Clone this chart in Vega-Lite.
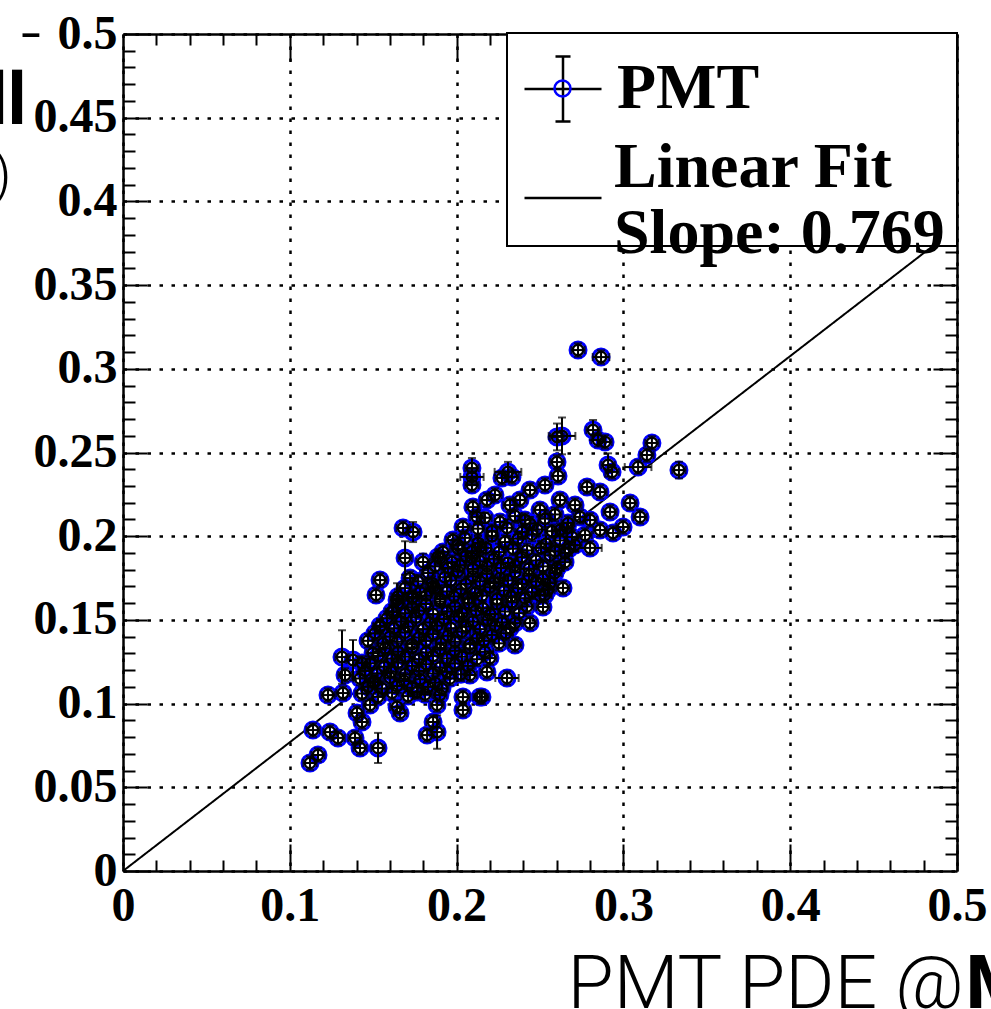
{
"$schema": "https://vega.github.io/schema/vega-lite/v6.json",
"width": 834, "height": 837,
"autosize": "none",
"padding": {"left": 123, "top": 34, "right": 34, "bottom": 138},
"background": "white",
"config": {
 "view": {"stroke": null},
 "legend": {"strokeWidth": 2},
 "axis": {"domainColor": "black", "tickColor": "black", "labelColor": "black", "titleColor": "black",
  "labelFont": "Liberation Serif", "labelFontWeight": "bold", "labelFontSize": 48,
  "labelFlush": false, "labelOverlap": false, "tickWidth": 2, "domainWidth": 2.5,
  "gridColor": "black", "gridDash": [3.5, 8.5], "gridWidth": 2.5, "gridOpacity": 1}
},
"datasets": {
 "leg": [{"s": "PMT"}, {"s": "Linear Fit"}],
 "fit": [{"fx": 0, "fy": 0}, {"fx": 0.5, "fy": 0.3845}],
 "pts": [
  {"x":0.2728,"y":0.3112,"ex":0.004,"ey":0.004},
  {"x":0.2866,"y":0.3070,"ex":0.005,"ey":0.004},
  {"x":0.3333,"y":0.2395,"ex":0.004,"ey":0.005},
  {"x":0.3171,"y":0.2557,"ex":0.004,"ey":0.004},
  {"x":0.3141,"y":0.2485,"ex":0.004,"ey":0.004},
  {"x":0.3088,"y":0.2413,"ex":0.008,"ey":0.004},
  {"x":0.3040,"y":0.2198,"ex":0.004,"ey":0.004},
  {"x":0.3100,"y":0.2115,"ex":0.004,"ey":0.004},
  {"x":0.2998,"y":0.2055,"ex":0.004,"ey":0.004},
  {"x":0.2938,"y":0.2019,"ex":0.004,"ey":0.004},
  {"x":0.2920,"y":0.2145,"ex":0.004,"ey":0.004},
  {"x":0.2818,"y":0.2634,"ex":0.004,"ey":0.006},
  {"x":0.2848,"y":0.2575,"ex":0.004,"ey":0.004},
  {"x":0.2890,"y":0.2563,"ex":0.004,"ey":0.004},
  {"x":0.2908,"y":0.2425,"ex":0.004,"ey":0.007},
  {"x":0.2932,"y":0.2384,"ex":0.004,"ey":0.004},
  {"x":0.2632,"y":0.2599,"ex":0.008,"ey":0.011},
  {"x":0.2602,"y":0.2593,"ex":0.004,"ey":0.008},
  {"x":0.2602,"y":0.2443,"ex":0.004,"ey":0.004},
  {"x":0.2608,"y":0.2360,"ex":0.004,"ey":0.004},
  {"x":0.2860,"y":0.2264,"ex":0.004,"ey":0.004},
  {"x":0.2782,"y":0.2294,"ex":0.004,"ey":0.004},
  {"x":0.2740,"y":0.2115,"ex":0.004,"ey":0.004},
  {"x":0.2668,"y":0.2079,"ex":0.004,"ey":0.004},
  {"x":0.2800,"y":0.1930,"ex":0.007,"ey":0.004},
  {"x":0.2650,"y":0.1900,"ex":0.004,"ey":0.004},
  {"x":0.2602,"y":0.1810,"ex":0.004,"ey":0.004},
  {"x":0.2638,"y":0.1691,"ex":0.004,"ey":0.004},
  {"x":0.2530,"y":0.1649,"ex":0.004,"ey":0.004},
  {"x":0.2518,"y":0.1577,"ex":0.004,"ey":0.004},
  {"x":0.2440,"y":0.1481,"ex":0.004,"ey":0.004},
  {"x":0.2350,"y":0.1481,"ex":0.004,"ey":0.004},
  {"x":0.2350,"y":0.1350,"ex":0.004,"ey":0.004},
  {"x":0.2302,"y":0.1153,"ex":0.007,"ey":0.004},
  {"x":0.2200,"y":0.1272,"ex":0.004,"ey":0.004},
  {"x":0.2182,"y":0.1189,"ex":0.004,"ey":0.004},
  {"x":0.2152,"y":0.1039,"ex":0.004,"ey":0.004},
  {"x":0.2092,"y":0.2407,"ex":0.004,"ey":0.006},
  {"x":0.2092,"y":0.2354,"ex":0.007,"ey":0.004},
  {"x":0.2308,"y":0.2384,"ex":0.008,"ey":0.006},
  {"x":0.2272,"y":0.2348,"ex":0.004,"ey":0.004},
  {"x":0.2332,"y":0.2354,"ex":0.004,"ey":0.004},
  {"x":0.1679,"y":0.2049,"ex":0.004,"ey":0.004},
  {"x":0.1739,"y":0.2025,"ex":0.004,"ey":0.006},
  {"x":0.1691,"y":0.1870,"ex":0.004,"ey":0.010},
  {"x":0.1799,"y":0.1846,"ex":0.004,"ey":0.005},
  {"x":0.1541,"y":0.1738,"ex":0.004,"ey":0.004},
  {"x":0.1517,"y":0.1649,"ex":0.004,"ey":0.004},
  {"x":0.1721,"y":0.1750,"ex":0.004,"ey":0.004},
  {"x":0.1739,"y":0.1637,"ex":0.004,"ey":0.004},
  {"x":0.1643,"y":0.1619,"ex":0.004,"ey":0.010},
  {"x":0.1619,"y":0.1547,"ex":0.004,"ey":0.004},
  {"x":0.1541,"y":0.1458,"ex":0.004,"ey":0.004},
  {"x":0.1871,"y":0.1691,"ex":0.004,"ey":0.004},
  {"x":0.1888,"y":0.1876,"ex":0.004,"ey":0.004},
  {"x":0.1918,"y":0.1906,"ex":0.004,"ey":0.004},
  {"x":0.1978,"y":0.1977,"ex":0.004,"ey":0.004},
  {"x":0.2008,"y":0.1947,"ex":0.004,"ey":0.004},
  {"x":0.2038,"y":0.2055,"ex":0.004,"ey":0.004},
  {"x":0.2092,"y":0.2306,"ex":0.004,"ey":0.004},
  {"x":0.2098,"y":0.2174,"ex":0.004,"ey":0.004},
  {"x":0.2122,"y":0.2115,"ex":0.004,"ey":0.004},
  {"x":0.2092,"y":0.1870,"ex":0.004,"ey":0.004},
  {"x":0.2140,"y":0.1935,"ex":0.004,"ey":0.004},
  {"x":0.1313,"y":0.1278,"ex":0.004,"ey":0.016},
  {"x":0.1379,"y":0.1260,"ex":0.004,"ey":0.012},
  {"x":0.1433,"y":0.1243,"ex":0.004,"ey":0.004},
  {"x":0.1499,"y":0.1302,"ex":0.004,"ey":0.004},
  {"x":0.1331,"y":0.1171,"ex":0.004,"ey":0.004},
  {"x":0.1319,"y":0.1063,"ex":0.004,"ey":0.004},
  {"x":0.1229,"y":0.1051,"ex":0.004,"ey":0.004},
  {"x":0.1139,"y":0.0842,"ex":0.004,"ey":0.004},
  {"x":0.1241,"y":0.0830,"ex":0.004,"ey":0.004},
  {"x":0.1289,"y":0.0795,"ex":0.004,"ey":0.004},
  {"x":0.1169,"y":0.0693,"ex":0.004,"ey":0.004},
  {"x":0.1121,"y":0.0645,"ex":0.004,"ey":0.004},
  {"x":0.1403,"y":0.0944,"ex":0.004,"ey":0.004},
  {"x":0.1433,"y":0.0890,"ex":0.004,"ey":0.004},
  {"x":0.1391,"y":0.0795,"ex":0.004,"ey":0.004},
  {"x":0.1421,"y":0.0735,"ex":0.004,"ey":0.004},
  {"x":0.1529,"y":0.0735,"ex":0.004,"ey":0.009},
  {"x":0.1823,"y":0.0812,"ex":0.004,"ey":0.004},
  {"x":0.1883,"y":0.0830,"ex":0.004,"ey":0.010},
  {"x":0.1859,"y":0.0890,"ex":0.004,"ey":0.004},
  {"x":0.1883,"y":0.0992,"ex":0.004,"ey":0.004},
  {"x":0.1900,"y":0.1051,"ex":0.004,"ey":0.004},
  {"x":0.2038,"y":0.1039,"ex":0.004,"ey":0.004},
  {"x":0.2038,"y":0.0962,"ex":0.004,"ey":0.004},
  {"x":0.2140,"y":0.1039,"ex":0.004,"ey":0.004},
  {"x":0.2080,"y":0.1171,"ex":0.004,"ey":0.004},
  {"x":0.1661,"y":0.0944,"ex":0.004,"ey":0.004},
  {"x":0.1643,"y":0.0980,"ex":0.004,"ey":0.004},
  {"x":0.1763,"y":0.1069,"ex":0.004,"ey":0.004},
  {"x":0.1481,"y":0.0992,"ex":0.004,"ey":0.004},
  {"x":0.1499,"y":0.1129,"ex":0.004,"ey":0.004},
  {"x":0.2380,"y":0.2216,"ex":0.004,"ey":0.004},
  {"x":0.2440,"y":0.2276,"ex":0.004,"ey":0.004},
  {"x":0.2530,"y":0.2306,"ex":0.004,"ey":0.004},
  {"x":0.2620,"y":0.2216,"ex":0.004,"ey":0.004},
  {"x":0.2710,"y":0.2186,"ex":0.004,"ey":0.004},
  {"x":0.2800,"y":0.2097,"ex":0.004,"ey":0.004},
  {"x":0.2860,"y":0.2037,"ex":0.004,"ey":0.004},
  {"x":0.2770,"y":0.2007,"ex":0.004,"ey":0.004},
  {"x":0.2710,"y":0.1947,"ex":0.004,"ey":0.004},
  {"x":0.2620,"y":0.2037,"ex":0.004,"ey":0.004},
  {"x":0.2500,"y":0.2157,"ex":0.004,"ey":0.004},
  {"x":0.2410,"y":0.2097,"ex":0.004,"ey":0.004},
  {"x":0.2320,"y":0.2186,"ex":0.004,"ey":0.004},
  {"x":0.2230,"y":0.2246,"ex":0.004,"ey":0.004},
  {"x":0.2182,"y":0.2216,"ex":0.004,"ey":0.004},
  {"x":0.2170,"y":0.2110,"ex":0.004,"ey":0.003},
  {"x":0.2260,"y":0.2085,"ex":0.003,"ey":0.004},
  {"x":0.2350,"y":0.2120,"ex":0.004,"ey":0.004},
  {"x":0.2440,"y":0.2075,"ex":0.005,"ey":0.004},
  {"x":0.2530,"y":0.2105,"ex":0.004,"ey":0.005},
  {"x":0.2590,"y":0.2130,"ex":0.004,"ey":0.004},
  {"x":0.2050,"y":0.1990,"ex":0.004,"ey":0.004},
  {"x":0.2128,"y":0.1960,"ex":0.003,"ey":0.004},
  {"x":0.2212,"y":0.2000,"ex":0.004,"ey":0.003},
  {"x":0.2290,"y":0.1965,"ex":0.004,"ey":0.004},
  {"x":0.2368,"y":0.1985,"ex":0.005,"ey":0.004},
  {"x":0.2452,"y":0.2010,"ex":0.004,"ey":0.004},
  {"x":0.2536,"y":0.1955,"ex":0.004,"ey":0.005},
  {"x":0.2620,"y":0.1975,"ex":0.004,"ey":0.004},
  {"x":0.2692,"y":0.1995,"ex":0.004,"ey":0.004},
  {"x":0.1901,"y":0.1870,"ex":0.004,"ey":0.004},
  {"x":0.1972,"y":0.1845,"ex":0.003,"ey":0.004},
  {"x":0.2056,"y":0.1880,"ex":0.004,"ey":0.005},
  {"x":0.2140,"y":0.1850,"ex":0.004,"ey":0.004},
  {"x":0.2224,"y":0.1865,"ex":0.005,"ey":0.004},
  {"x":0.2308,"y":0.1840,"ex":0.004,"ey":0.003},
  {"x":0.2392,"y":0.1875,"ex":0.004,"ey":0.004},
  {"x":0.2476,"y":0.1855,"ex":0.004,"ey":0.004},
  {"x":0.2560,"y":0.1885,"ex":0.003,"ey":0.004},
  {"x":0.2650,"y":0.1845,"ex":0.004,"ey":0.004},
  {"x":0.1829,"y":0.1780,"ex":0.004,"ey":0.004},
  {"x":0.1930,"y":0.1755,"ex":0.004,"ey":0.005},
  {"x":0.2008,"y":0.1790,"ex":0.004,"ey":0.004},
  {"x":0.2098,"y":0.1760,"ex":0.005,"ey":0.004},
  {"x":0.2182,"y":0.1775,"ex":0.004,"ey":0.004},
  {"x":0.2260,"y":0.1750,"ex":0.004,"ey":0.003},
  {"x":0.2350,"y":0.1785,"ex":0.003,"ey":0.004},
  {"x":0.2434,"y":0.1765,"ex":0.004,"ey":0.004},
  {"x":0.2518,"y":0.1745,"ex":0.004,"ey":0.004},
  {"x":0.2590,"y":0.1780,"ex":0.004,"ey":0.005},
  {"x":0.1691,"y":0.1690,"ex":0.004,"ey":0.004},
  {"x":0.1781,"y":0.1665,"ex":0.004,"ey":0.004},
  {"x":0.1859,"y":0.1700,"ex":0.003,"ey":0.004},
  {"x":0.1942,"y":0.1670,"ex":0.004,"ey":0.004},
  {"x":0.2026,"y":0.1685,"ex":0.004,"ey":0.005},
  {"x":0.2110,"y":0.1660,"ex":0.005,"ey":0.004},
  {"x":0.2200,"y":0.1695,"ex":0.004,"ey":0.004},
  {"x":0.2284,"y":0.1675,"ex":0.004,"ey":0.003},
  {"x":0.2368,"y":0.1690,"ex":0.004,"ey":0.004},
  {"x":0.2452,"y":0.1665,"ex":0.004,"ey":0.004},
  {"x":0.2548,"y":0.1680,"ex":0.004,"ey":0.004},
  {"x":0.1649,"y":0.1600,"ex":0.004,"ey":0.004},
  {"x":0.1733,"y":0.1575,"ex":0.004,"ey":0.005},
  {"x":0.1817,"y":0.1595,"ex":0.004,"ey":0.004},
  {"x":0.1901,"y":0.1610,"ex":0.003,"ey":0.004},
  {"x":0.1990,"y":0.1580,"ex":0.004,"ey":0.004},
  {"x":0.2074,"y":0.1600,"ex":0.004,"ey":0.004},
  {"x":0.2158,"y":0.1570,"ex":0.005,"ey":0.004},
  {"x":0.2242,"y":0.1595,"ex":0.004,"ey":0.003},
  {"x":0.2332,"y":0.1605,"ex":0.004,"ey":0.004},
  {"x":0.2422,"y":0.1580,"ex":0.004,"ey":0.004},
  {"x":0.1583,"y":0.1510,"ex":0.004,"ey":0.004},
  {"x":0.1667,"y":0.1490,"ex":0.004,"ey":0.004},
  {"x":0.1757,"y":0.1515,"ex":0.003,"ey":0.005},
  {"x":0.1841,"y":0.1485,"ex":0.004,"ey":0.004},
  {"x":0.1924,"y":0.1505,"ex":0.004,"ey":0.004},
  {"x":0.2014,"y":0.1520,"ex":0.005,"ey":0.004},
  {"x":0.2098,"y":0.1490,"ex":0.004,"ey":0.004},
  {"x":0.2188,"y":0.1500,"ex":0.004,"ey":0.003},
  {"x":0.2272,"y":0.1485,"ex":0.004,"ey":0.004},
  {"x":0.1511,"y":0.1420,"ex":0.004,"ey":0.004},
  {"x":0.1601,"y":0.1400,"ex":0.004,"ey":0.004},
  {"x":0.1691,"y":0.1425,"ex":0.004,"ey":0.005},
  {"x":0.1775,"y":0.1395,"ex":0.003,"ey":0.004},
  {"x":0.1859,"y":0.1415,"ex":0.004,"ey":0.004},
  {"x":0.1948,"y":0.1405,"ex":0.004,"ey":0.004},
  {"x":0.2032,"y":0.1430,"ex":0.005,"ey":0.004},
  {"x":0.2122,"y":0.1390,"ex":0.004,"ey":0.004},
  {"x":0.2212,"y":0.1410,"ex":0.004,"ey":0.004},
  {"x":0.2296,"y":0.1420,"ex":0.004,"ey":0.004},
  {"x":0.1571,"y":0.1330,"ex":0.004,"ey":0.004},
  {"x":0.1649,"y":0.1310,"ex":0.004,"ey":0.005},
  {"x":0.1733,"y":0.1335,"ex":0.004,"ey":0.004},
  {"x":0.1817,"y":0.1305,"ex":0.003,"ey":0.004},
  {"x":0.1901,"y":0.1325,"ex":0.004,"ey":0.004},
  {"x":0.1990,"y":0.1315,"ex":0.004,"ey":0.004},
  {"x":0.2080,"y":0.1330,"ex":0.004,"ey":0.003},
  {"x":0.2170,"y":0.1310,"ex":0.005,"ey":0.004},
  {"x":0.1481,"y":0.1240,"ex":0.004,"ey":0.004},
  {"x":0.1565,"y":0.1220,"ex":0.004,"ey":0.004},
  {"x":0.1649,"y":0.1245,"ex":0.004,"ey":0.004},
  {"x":0.1733,"y":0.1225,"ex":0.004,"ey":0.005},
  {"x":0.1817,"y":0.1235,"ex":0.004,"ey":0.004},
  {"x":0.1901,"y":0.1215,"ex":0.003,"ey":0.004},
  {"x":0.1990,"y":0.1240,"ex":0.004,"ey":0.004},
  {"x":0.2068,"y":0.1225,"ex":0.004,"ey":0.004},
  {"x":0.1421,"y":0.1150,"ex":0.004,"ey":0.004},
  {"x":0.1511,"y":0.1130,"ex":0.004,"ey":0.004},
  {"x":0.1601,"y":0.1155,"ex":0.004,"ey":0.004},
  {"x":0.1685,"y":0.1135,"ex":0.004,"ey":0.005},
  {"x":0.1781,"y":0.1145,"ex":0.004,"ey":0.004},
  {"x":0.1871,"y":0.1125,"ex":0.004,"ey":0.004},
  {"x":0.1960,"y":0.1150,"ex":0.004,"ey":0.004},
  {"x":0.1433,"y":0.1060,"ex":0.004,"ey":0.004},
  {"x":0.1529,"y":0.1040,"ex":0.004,"ey":0.004},
  {"x":0.1613,"y":0.1065,"ex":0.004,"ey":0.004},
  {"x":0.1709,"y":0.1045,"ex":0.004,"ey":0.004},
  {"x":0.1811,"y":0.1055,"ex":0.004,"ey":0.004},
  {"x":0.2128,"y":0.2045,"ex":0.004,"ey":0.004},
  {"x":0.2212,"y":0.2030,"ex":0.003,"ey":0.004},
  {"x":0.2302,"y":0.2050,"ex":0.004,"ey":0.005},
  {"x":0.2392,"y":0.2025,"ex":0.004,"ey":0.004},
  {"x":0.2482,"y":0.2040,"ex":0.005,"ey":0.004},
  {"x":0.2572,"y":0.2030,"ex":0.004,"ey":0.004},
  {"x":0.2662,"y":0.2050,"ex":0.004,"ey":0.003},
  {"x":0.2008,"y":0.1925,"ex":0.004,"ey":0.004},
  {"x":0.2092,"y":0.1910,"ex":0.004,"ey":0.004},
  {"x":0.2176,"y":0.1930,"ex":0.003,"ey":0.004},
  {"x":0.2254,"y":0.1905,"ex":0.004,"ey":0.005},
  {"x":0.2338,"y":0.1925,"ex":0.004,"ey":0.004},
  {"x":0.2422,"y":0.1915,"ex":0.004,"ey":0.004},
  {"x":0.2506,"y":0.1930,"ex":0.005,"ey":0.004},
  {"x":0.2590,"y":0.1910,"ex":0.004,"ey":0.004},
  {"x":0.2674,"y":0.1925,"ex":0.004,"ey":0.004},
  {"x":0.1871,"y":0.1820,"ex":0.004,"ey":0.004},
  {"x":0.1948,"y":0.1810,"ex":0.004,"ey":0.003},
  {"x":0.2020,"y":0.1825,"ex":0.004,"ey":0.004},
  {"x":0.2098,"y":0.1805,"ex":0.003,"ey":0.004},
  {"x":0.2182,"y":0.1820,"ex":0.004,"ey":0.004},
  {"x":0.2266,"y":0.1810,"ex":0.004,"ey":0.005},
  {"x":0.2350,"y":0.1825,"ex":0.004,"ey":0.004},
  {"x":0.2434,"y":0.1805,"ex":0.005,"ey":0.004},
  {"x":0.2518,"y":0.1820,"ex":0.004,"ey":0.004},
  {"x":0.2602,"y":0.1810,"ex":0.004,"ey":0.004},
  {"x":0.1769,"y":0.1730,"ex":0.004,"ey":0.004},
  {"x":0.1853,"y":0.1720,"ex":0.004,"ey":0.004},
  {"x":0.1966,"y":0.1735,"ex":0.003,"ey":0.004},
  {"x":0.2056,"y":0.1715,"ex":0.004,"ey":0.004},
  {"x":0.2140,"y":0.1730,"ex":0.004,"ey":0.005},
  {"x":0.2224,"y":0.1720,"ex":0.004,"ey":0.004},
  {"x":0.2308,"y":0.1735,"ex":0.005,"ey":0.004},
  {"x":0.2392,"y":0.1715,"ex":0.004,"ey":0.003},
  {"x":0.2476,"y":0.1730,"ex":0.004,"ey":0.004},
  {"x":0.2560,"y":0.1720,"ex":0.004,"ey":0.004},
  {"x":0.1649,"y":0.1640,"ex":0.004,"ey":0.004},
  {"x":0.1733,"y":0.1630,"ex":0.004,"ey":0.004},
  {"x":0.1817,"y":0.1645,"ex":0.004,"ey":0.005},
  {"x":0.1901,"y":0.1625,"ex":0.003,"ey":0.004},
  {"x":0.1984,"y":0.1640,"ex":0.004,"ey":0.004},
  {"x":0.2068,"y":0.1630,"ex":0.004,"ey":0.004},
  {"x":0.2152,"y":0.1645,"ex":0.005,"ey":0.004},
  {"x":0.2242,"y":0.1625,"ex":0.004,"ey":0.004},
  {"x":0.2326,"y":0.1640,"ex":0.004,"ey":0.003},
  {"x":0.2410,"y":0.1630,"ex":0.004,"ey":0.004},
  {"x":0.2500,"y":0.1645,"ex":0.004,"ey":0.004},
  {"x":0.1613,"y":0.1550,"ex":0.004,"ey":0.004},
  {"x":0.1691,"y":0.1540,"ex":0.004,"ey":0.004},
  {"x":0.1775,"y":0.1555,"ex":0.004,"ey":0.004},
  {"x":0.1859,"y":0.1535,"ex":0.004,"ey":0.005},
  {"x":0.1942,"y":0.1550,"ex":0.003,"ey":0.004},
  {"x":0.2032,"y":0.1540,"ex":0.004,"ey":0.004},
  {"x":0.2116,"y":0.1555,"ex":0.004,"ey":0.004},
  {"x":0.2200,"y":0.1535,"ex":0.005,"ey":0.004},
  {"x":0.2290,"y":0.1550,"ex":0.004,"ey":0.004},
  {"x":0.2374,"y":0.1540,"ex":0.004,"ey":0.004},
  {"x":0.1541,"y":0.1465,"ex":0.004,"ey":0.004},
  {"x":0.1625,"y":0.1450,"ex":0.004,"ey":0.004},
  {"x":0.1709,"y":0.1460,"ex":0.004,"ey":0.003},
  {"x":0.1799,"y":0.1445,"ex":0.004,"ey":0.004},
  {"x":0.1883,"y":0.1465,"ex":0.003,"ey":0.004},
  {"x":0.1966,"y":0.1450,"ex":0.004,"ey":0.005},
  {"x":0.2056,"y":0.1460,"ex":0.004,"ey":0.004},
  {"x":0.2140,"y":0.1445,"ex":0.004,"ey":0.004},
  {"x":0.2230,"y":0.1465,"ex":0.005,"ey":0.004},
  {"x":0.2320,"y":0.1450,"ex":0.004,"ey":0.004},
  {"x":0.1469,"y":0.1375,"ex":0.004,"ey":0.004},
  {"x":0.1559,"y":0.1360,"ex":0.004,"ey":0.004},
  {"x":0.1643,"y":0.1370,"ex":0.004,"ey":0.004},
  {"x":0.1733,"y":0.1355,"ex":0.004,"ey":0.005},
  {"x":0.1817,"y":0.1375,"ex":0.004,"ey":0.004},
  {"x":0.1906,"y":0.1360,"ex":0.003,"ey":0.004},
  {"x":0.1990,"y":0.1370,"ex":0.004,"ey":0.004},
  {"x":0.2080,"y":0.1355,"ex":0.004,"ey":0.004},
  {"x":0.2164,"y":0.1375,"ex":0.004,"ey":0.003},
  {"x":0.2254,"y":0.1360,"ex":0.004,"ey":0.004},
  {"x":0.1529,"y":0.1285,"ex":0.004,"ey":0.004},
  {"x":0.1613,"y":0.1270,"ex":0.004,"ey":0.004},
  {"x":0.1691,"y":0.1280,"ex":0.005,"ey":0.004},
  {"x":0.1775,"y":0.1265,"ex":0.004,"ey":0.004},
  {"x":0.1859,"y":0.1285,"ex":0.004,"ey":0.005},
  {"x":0.1942,"y":0.1270,"ex":0.004,"ey":0.004},
  {"x":0.2032,"y":0.1280,"ex":0.003,"ey":0.004},
  {"x":0.2122,"y":0.1265,"ex":0.004,"ey":0.004},
  {"x":0.1451,"y":0.1195,"ex":0.004,"ey":0.004},
  {"x":0.1523,"y":0.1180,"ex":0.004,"ey":0.004},
  {"x":0.1607,"y":0.1190,"ex":0.004,"ey":0.004},
  {"x":0.1691,"y":0.1175,"ex":0.004,"ey":0.004},
  {"x":0.1775,"y":0.1195,"ex":0.004,"ey":0.005},
  {"x":0.1859,"y":0.1180,"ex":0.004,"ey":0.004},
  {"x":0.1942,"y":0.1190,"ex":0.005,"ey":0.004},
  {"x":0.2026,"y":0.1175,"ex":0.004,"ey":0.004},
  {"x":0.1469,"y":0.1100,"ex":0.004,"ey":0.004},
  {"x":0.1553,"y":0.1090,"ex":0.004,"ey":0.004},
  {"x":0.1643,"y":0.1105,"ex":0.004,"ey":0.004},
  {"x":0.1733,"y":0.1095,"ex":0.004,"ey":0.004},
  {"x":0.1829,"y":0.1100,"ex":0.004,"ey":0.004},
  {"x":0.1912,"y":0.1090,"ex":0.004,"ey":0.004}
 ]
},
"resolve": {"axis": {"x": "independent", "y": "independent"}},
"layer": [
 {
  "data": {"name": "leg"},
  "mark": {"type": "point", "opacity": 0, "color": "black", "filled": false},
  "encoding": {
   "shape": {"field": "s", "type": "nominal",
    "scale": {"domain": ["PMT", "Linear Fit"], "range": ["M-1,0H1M0,-0.844V0.844M-0.195,-0.844H0.195M-0.195,0.844H0.195", "M-1,0H1"]},
    "legend": {"title": ".", "titleOrient": "right", "titleColor": "transparent", "titleFontSize": 1, "titlePadding": 181,
     "orient": "none", "legendX": 384, "legendY": -1, "padding": 16,
     "strokeColor": "black", "fillColor": "white",
     "symbolSize": 5929, "symbolStrokeWidth": 2.5, "symbolStrokeColor": "black", "symbolFillColor": "transparent", "symbolOpacity": 1,
     "labelFont": "Liberation Serif", "labelFontWeight": "bold", "labelFontSize": 64, "labelColor": "black",
     "labelOffset": 14, "labelLimit": 1000, "rowPadding": 31, "labelBaseline": "middle",
     "labelExpr": "datum.value == 'PMT' ? 'PMT' : ''"}
   }
  }
 },
 {
  "data": {"name": "fit"},
  "mark": {"type": "line", "color": "black", "strokeWidth": 2},
  "encoding": {
   "x": {"field": "fx", "type": "quantitative", "scale": {"domain": [0, 0.5], "nice": false, "zero": false}, "axis": null},
   "y": {"field": "fy", "type": "quantitative", "scale": {"domain": [0, 0.5], "nice": false, "zero": false}, "axis": null},
   "strokeDash": {"datum": "Linear Fit", "type": "nominal", "scale": {"domain": ["Linear Fit"], "range": [[1, 0]]},
    "legend": {"title": null, "orient": "none", "legendX": 427, "legendY": 102, "padding": 0,
     "symbolSize": 16, "symbolStrokeWidth": 0, "symbolOpacity": 0, "labelOffset": 0,
     "labelFont": "Liberation Serif", "labelFontWeight": "bold", "labelFontSize": 64, "labelColor": "black",
     "labelLimit": 1000, "labelBaseline": "middle",
     "labelExpr": "['Linear Fit', 'Slope: 0.769']"}}
  }
 },
 {
  "data": {"name": "pts"},
  "mark": {"type": "point", "shape": "circle", "filled": false, "size": 256, "strokeWidth": 3, "opacity": 1},
  "encoding": {
   "x": {"field": "x", "type": "quantitative", "scale": {"domain": [0, 0.5], "nice": false, "zero": false},
    "axis": {"orient": "top", "values": [0.1, 0.2, 0.3, 0.4], "tickSize": -27, "labels": false, "grid": false, "domain": true, "title": null}},
   "y": {"field": "y", "type": "quantitative", "scale": {"domain": [0, 0.5], "nice": false, "zero": false},
    "axis": {"orient": "right", "values": [0.05, 0.1, 0.15, 0.2, 0.25, 0.3, 0.35, 0.4, 0.45], "tickSize": -24, "labels": false, "grid": false, "domain": true,
     "title": "(a.u.)", "titleFont": "Roboto", "titleFontWeight": 300, "titleFontSize": 56, "titleAngle": 0, "titleX": -946, "titleY": 158, "titleAlign": "right", "titleBaseline": "alphabetic"}},
   "stroke": {"datum": "PMT", "type": "nominal", "scale": {"domain": ["PMT"], "range": ["#0000ff"]},
    "legend": {"title": null, "orient": "none", "legendX": 430, "legendY": 45, "padding": 0,
     "symbolType": "circle", "symbolSize": 256, "symbolStrokeWidth": 2.5, "symbolFillColor": "transparent", "symbolOpacity": 1,
     "labelExpr": "''", "labelFontSize": 1}}
  }
 },
 {
  "data": {"name": "pts"},
  "mark": {"type": "point", "shape": "circle", "filled": false, "size": 110, "strokeWidth": 2.5, "color": "black", "opacity": 1},
  "encoding": {
   "x": {"field": "x", "type": "quantitative", "scale": {"domain": [0, 0.5], "nice": false, "zero": false},
    "axis": {"orient": "top", "values": [0.02,0.04,0.06,0.08,0.12,0.14,0.16,0.18,0.22,0.24,0.26,0.28,0.32,0.34,0.36,0.38,0.42,0.44,0.46,0.48], "tickSize": -11, "labels": false, "grid": false, "domain": false, "title": null}},
   "y": {"field": "y", "type": "quantitative", "scale": {"domain": [0, 0.5], "nice": false, "zero": false},
    "axis": {"orient": "right", "values": [0.01,0.02,0.03,0.04,0.06,0.07,0.08,0.09,0.11,0.12,0.13,0.14,0.16,0.17,0.18,0.19,0.21,0.22,0.23,0.24,0.26,0.27,0.28,0.29,0.31,0.32,0.33,0.34,0.36,0.37,0.38,0.39,0.41,0.42,0.43,0.44,0.46,0.47,0.48,0.49], "tickSize": -12, "labels": false, "grid": false, "domain": false, "title": null}}
  }
 },
 {
  "data": {"name": "pts"},
  "mark": {"type": "errorbar", "color": "black", "thickness": 2, "ticks": {"size": 8, "thickness": 2, "color": "black"}},
  "encoding": {
   "x": {"field": "x", "type": "quantitative", "scale": {"domain": [0, 0.5], "nice": false, "zero": false},
    "axis": {"orient": "bottom", "values": [0, 0.1, 0.2, 0.3, 0.4, 0.5], "format": "~g", "tickSize": -27, "labelPadding": 76, "labelBaseline": "alphabetic", "grid": true, "domain": true,
     "title": "PMT PDE @", "titleFont": "Roboto", "titleFontWeight": 300, "titleFontSize": 75, "titleX": 444, "titleY": 136, "titleAlign": "left", "titleBaseline": "alphabetic"}},
   "xError": {"field": "ex"},
   "y": {"field": "y", "type": "quantitative", "scale": {"domain": [0, 0.5], "nice": false, "zero": false},
    "axis": {"orient": "left", "values": [0, 0.05, 0.1, 0.15, 0.2, 0.25, 0.3, 0.35, 0.4, 0.45, 0.5], "format": "~g", "tickSize": -24, "labelPadding": 30, "grid": true, "domain": true,
     "title": "-", "titleFont": "Roboto", "titleFontWeight": 300, "titleFontSize": 72, "titleAngle": 0, "titleX": -82, "titleY": 23, "titleAlign": "right", "titleBaseline": "alphabetic"}}
  }
 },
 {
  "data": {"name": "pts"},
  "mark": {"type": "errorbar", "color": "black", "thickness": 2, "ticks": {"size": 8, "thickness": 2, "color": "black"}},
  "encoding": {
   "x": {"field": "x", "type": "quantitative", "scale": {"domain": [0, 0.5], "nice": false, "zero": false},
    "axis": {"orient": "bottom", "values": [0.02,0.04,0.06,0.08,0.12,0.14,0.16,0.18,0.22,0.24,0.26,0.28,0.32,0.34,0.36,0.38,0.42,0.44,0.46,0.48], "tickSize": -11, "labels": false, "grid": false, "domain": false,
     "title": "MPPC", "titleFont": "Roboto", "titleFontWeight": "bold", "titleFontSize": 75, "titleX": 842, "titleY": 136, "titleAlign": "left", "titleBaseline": "alphabetic"}},
   "y": {"field": "y", "type": "quantitative", "scale": {"domain": [0, 0.5], "nice": false, "zero": false},
    "axis": {"orient": "left", "values": [0.01,0.02,0.03,0.04,0.06,0.07,0.08,0.09,0.11,0.12,0.13,0.14,0.16,0.17,0.18,0.19,0.21,0.22,0.23,0.24,0.26,0.27,0.28,0.29,0.31,0.32,0.33,0.34,0.36,0.37,0.38,0.39,0.41,0.42,0.43,0.44,0.46,0.47,0.48,0.49], "tickSize": -12, "labels": false, "grid": false, "domain": false,
     "title": "@Full", "titleFont": "Roboto", "titleFontWeight": "bold", "titleFontSize": 72, "titleAngle": 0, "titleX": -97, "titleY": 89, "titleAlign": "right", "titleBaseline": "alphabetic"}},
   "yError": {"field": "ey"}
  }
 }
]
}
